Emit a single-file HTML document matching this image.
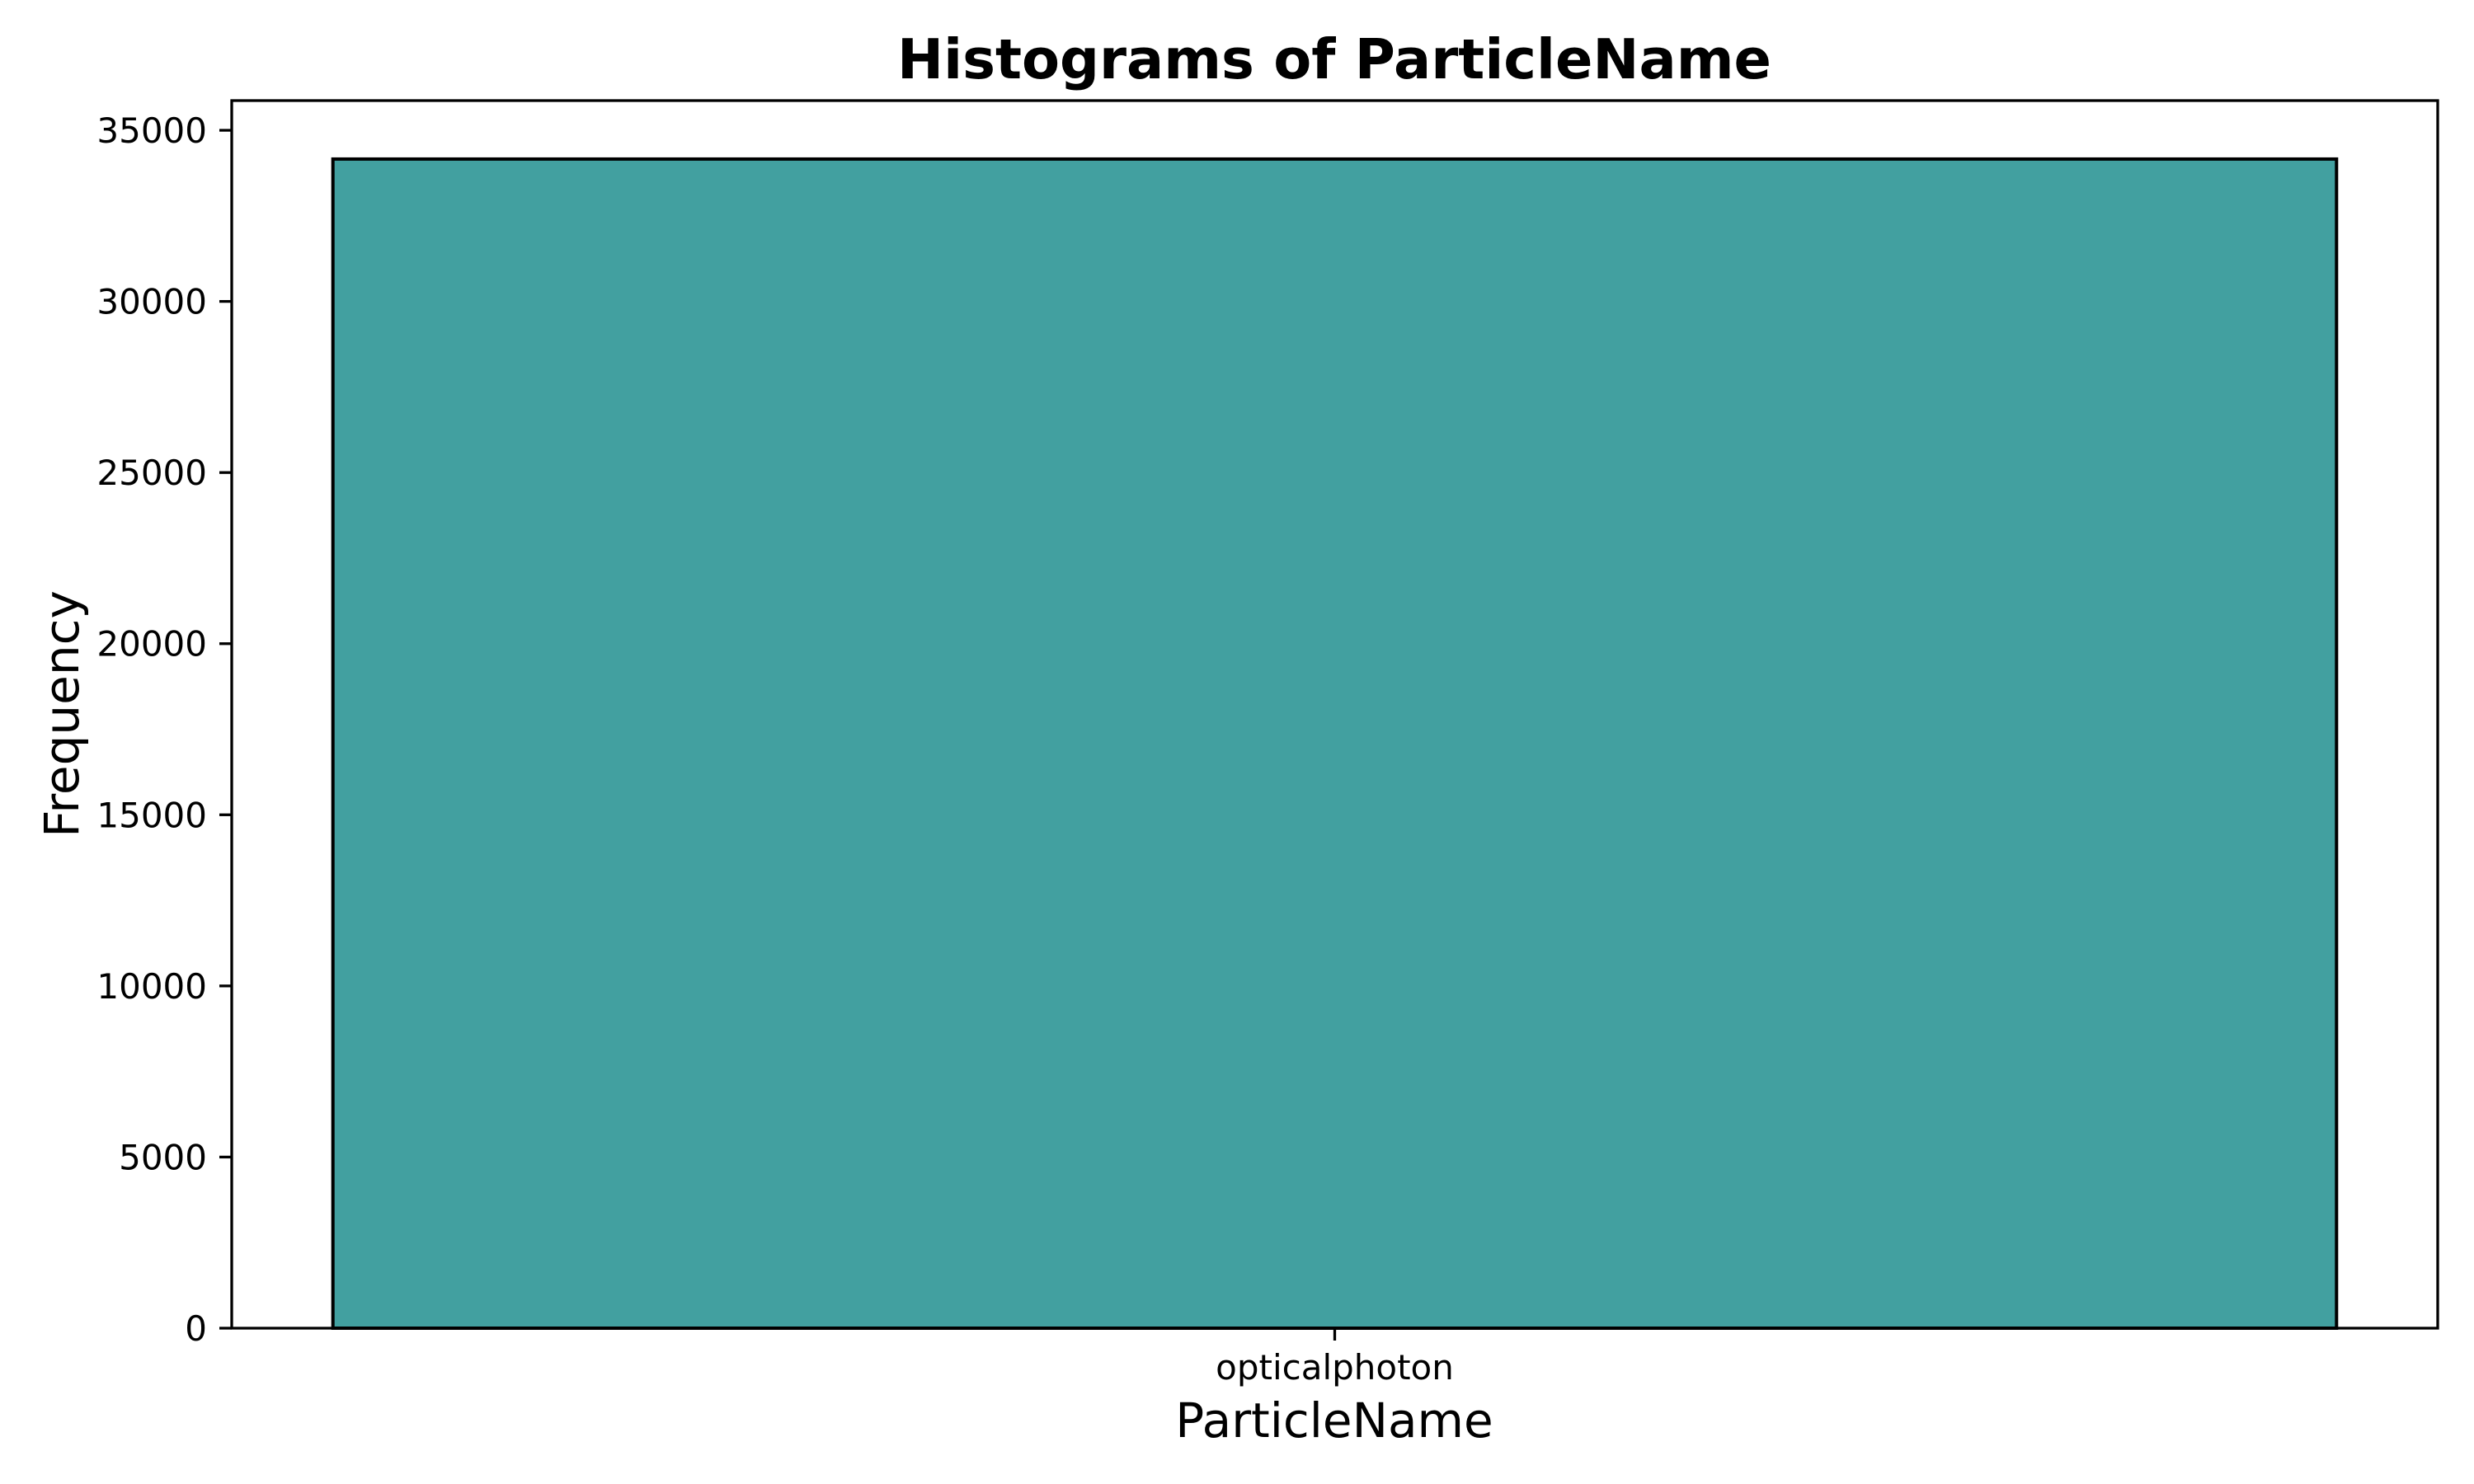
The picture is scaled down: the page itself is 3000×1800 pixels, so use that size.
<!DOCTYPE html>
<html><head><meta charset="utf-8"><style>
html,body{margin:0;padding:0;background:#fff;}
svg{display:block;font-family:"DejaVu Sans","Liberation Sans",sans-serif;}
</style></head><body>
<svg id="chart" width="3000" height="1800" viewBox="0 0 3000 1800">
<rect x="0" y="0" width="3000" height="1800" fill="#fff"/>
<text x="1618" y="95" font-size="67" font-weight="bold" text-anchor="middle">Histograms of ParticleName</text>
<g id="bars"></g>
<g id="yticks"></g>
<g id="xticks"></g>
<rect x="281" y="122" width="2675" height="1489" fill="none" stroke="#000" stroke-width="3.3"/>
<text x="1618" y="1743" font-size="58" text-anchor="middle">ParticleName</text>
<text transform="translate(95,866) rotate(-90)" font-size="58" text-anchor="middle">Frequency</text>
</svg>
<script>
const categories = ["opticalphoton"];
const counts = [34160];
const yTicks = [0, 5000, 10000, 15000, 20000, 25000, 30000, 35000];

const L = 281, R = 2956, T = 122, B = 1611;
const yMax = Math.max(...counts) * 1.05;
const y = v => B - (v / yMax) * (B - T);
const n = categories.length;
const xMin = -0.5505, xMax = n - 1 + 0.5505;
const x = v => L + (v - xMin) / (xMax - xMin) * (R - L);
const NS = "http://www.w3.org/2000/svg";
const bars = document.getElementById('bars');
const yt = document.getElementById('yticks');
const xt = document.getElementById('xticks');

counts.forEach((c, i) => {
  const r = document.createElementNS(NS, 'rect');
  const x0 = x(i - 0.5), x1 = x(i + 0.5);
  r.setAttribute('x', x0); r.setAttribute('width', x1 - x0);
  r.setAttribute('y', y(c)); r.setAttribute('height', y(0) - y(c));
  r.setAttribute('fill', '#42a0a0'); r.setAttribute('stroke', '#000'); r.setAttribute('stroke-width', '4');
  
  
  bars.appendChild(r);
});

yTicks.forEach(v => {
  const yy = y(v);
  const l = document.createElementNS(NS, 'line');
  l.setAttribute('x1', L - 15); l.setAttribute('x2', L); l.setAttribute('y1', yy); l.setAttribute('y2', yy);
  l.setAttribute('stroke', '#000'); l.setAttribute('stroke-width', '3.3');
  
  
  yt.appendChild(l);
  const t = document.createElementNS(NS, 'text');
  t.setAttribute('x', L - 30); t.setAttribute('y', yy + 15);
  t.setAttribute('font-size', '42'); t.setAttribute('text-anchor', 'end');
  t.textContent = String(v);
  
  
  yt.appendChild(t);
});

categories.forEach((c, i) => {
  const xx = x(i);
  const l = document.createElementNS(NS, 'line');
  l.setAttribute('x1', xx); l.setAttribute('x2', xx); l.setAttribute('y1', B); l.setAttribute('y2', B + 15);
  l.setAttribute('stroke', '#000'); l.setAttribute('stroke-width', '3.3');
  
  
  xt.appendChild(l);
  const t = document.createElementNS(NS, 'text');
  t.setAttribute('x', xx); t.setAttribute('y', B + 62);
  t.setAttribute('font-size', '42'); t.setAttribute('text-anchor', 'middle');
  t.textContent = c;
  
  
  xt.appendChild(t);
});
</script>
</body></html>
